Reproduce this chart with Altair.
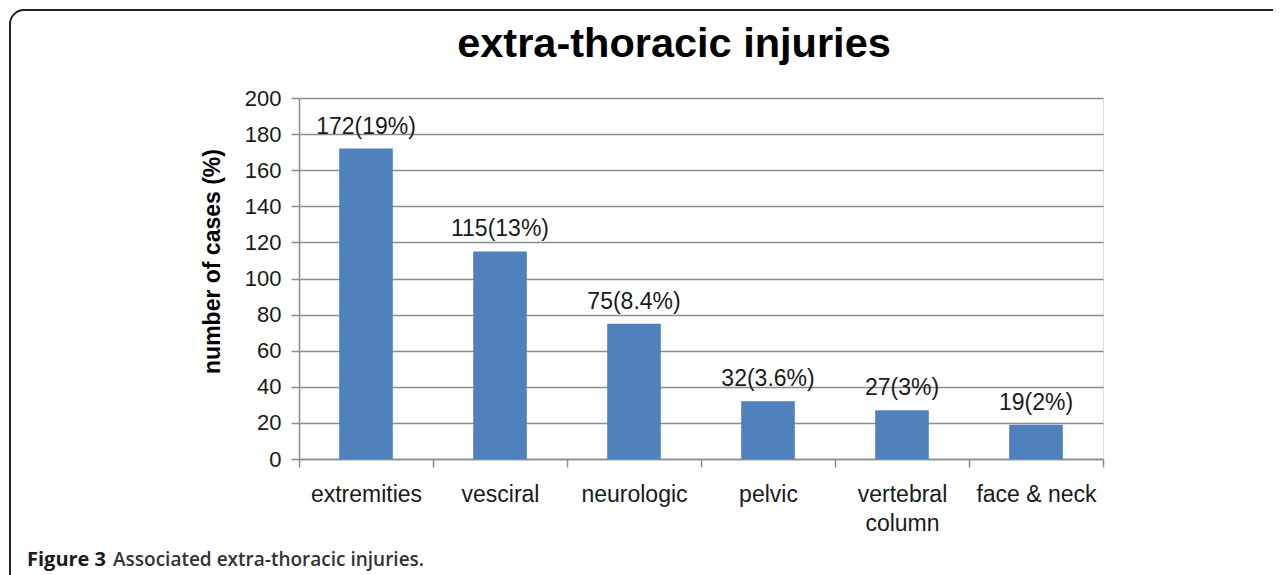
import altair as alt
import pandas as pd

categories = ["extremities", "vesciral", "neurologic", "pelvic", "vertebral column", "face & neck"]
cases = [172, 115, 75, 32, 27, 19]
bar_labels = ["172(19%)", "115(13%)", "75(8.4%)", "32(3.6%)", "27(3%)", "19(2%)"]
y_ticks = [0, 20, 40, 60, 80, 100, 120, 140, 160, 180, 200]
title_text = "extra-thoracic injuries"
caption_bold = "Figure 3"
caption_rest = "Associated extra-thoracic injuries."

df = pd.DataFrame({"category": categories, "cases": cases, "label": bar_labels})
one = pd.DataFrame({"k": [0]})

W, H = 804, 361
FONT = "Liberation Sans"
GRAY = "#8c8c8c"

x_enc = alt.X(
    "category:N",
    sort=categories,
    scale=alt.Scale(paddingInner=0, paddingOuter=0),
    axis=alt.Axis(
        title=None, labelAngle=0, tickBand="extent", grid=False,
        labelFont=FONT, labelFontSize=23, labelColor="#1a1a1a",
        labelPadding=16, labelLineHeight=29, labelOverlap=False,
        labelExpr="datum.label == 'vertebral column' ? ['vertebral', 'column'] : datum.label",
        tickSize=8, tickColor=GRAY, tickWidth=1.5,
        domainColor=GRAY, domainWidth=1.5,
    ),
)
y_enc = alt.Y(
    "cases:Q",
    scale=alt.Scale(domain=[0, 200], nice=False),
    axis=alt.Axis(
        values=y_ticks, tickCount=11, title="number of cases (%)", labelOverlap=False,
        titleFont=FONT, titleFontSize=23, titleFontWeight="bold", titleColor="#000",
        titleAngle=270, titleAlign="center", titleBaseline="middle",
        titleX=-87, titleY=163,
        labelFont=FONT, labelFontSize=22, labelColor="#1a1a1a", labelPadding=10,
        tickSize=8, tickColor=GRAY, tickWidth=1.5,
        domainColor=GRAY, domainWidth=1.5,
        gridColor=GRAY, gridWidth=1.5,
    ),
)

base = alt.Chart(df)

bars = base.mark_bar(width=alt.RelativeBandSize(0.4), color="#4F81BD").encode(x=x_enc, y=y_enc)

texts = base.mark_text(dy=-15, baseline="alphabetic", font=FONT, fontSize=23, color="#1a1a1a").encode(
    x=x_enc, y=y_enc, text="label:N"
)

box = alt.Chart(one).mark_rect(
    fillOpacity=0, stroke="#222", strokeWidth=2, cornerRadius=14
).encode(x=alt.value(-289), x2=alt.value(1200), y=alt.value(-88), y2=alt.value(620))

title = alt.Chart(one).mark_text(
    text=title_text, font=FONT, fontSize=41.5, fontWeight="bold", color="#000",
    align="center", baseline="alphabetic"
).encode(x=alt.value(375), y=alt.value(-41))

cap1 = alt.Chart(one).mark_text(
    text=caption_bold, font="Open Sans", fontSize=20, fontWeight="bold", color="#1a1a1a",
    align="left", baseline="alphabetic"
).encode(x=alt.value(-272), y=alt.value(468))

cap2 = alt.Chart(one).mark_text(
    text=caption_rest, font="Open Sans", fontSize=19, fontWeight=600, color="#333",
    align="left", baseline="alphabetic"
).encode(x=alt.value(-186), y=alt.value(468))

chart = alt.layer(box, bars, texts, title, cap1, cap2).properties(
    width=W, height=H,
    autosize=alt.AutoSizeParams(type="none"),
    padding={"left": 291, "top": 90, "right": 170, "bottom": 116},
).configure_view(stroke=None).configure(background="white")

chart.save("out.html", embed_options={"renderer": "svg", "actions": False})
